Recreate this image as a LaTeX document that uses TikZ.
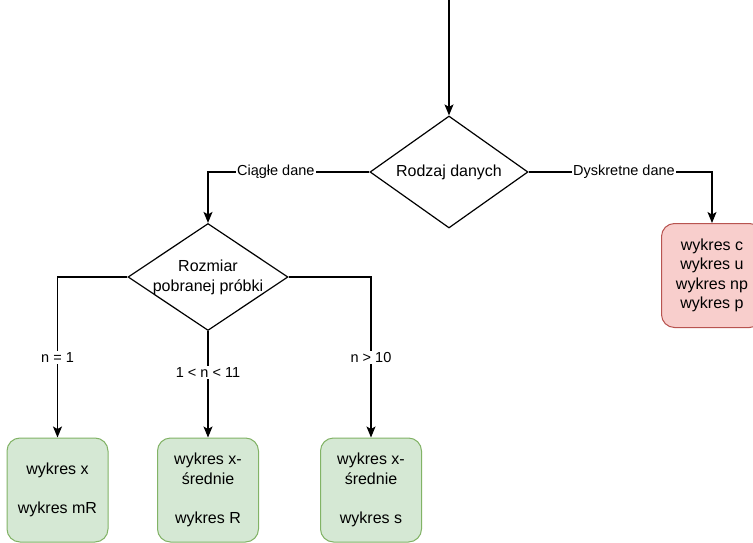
\documentclass[tikz,border=0pt]{standalone}
\usepackage{fontspec}
\setmainfont{Liberation Sans}
\usetikzlibrary{shapes.geometric,arrows.meta}
\definecolor{greenfill}{HTML}{D5E8D4}
\definecolor{greenline}{HTML}{82B366}
\definecolor{redfill}{HTML}{F8CECC}
\definecolor{redline}{HTML}{B85450}
\tikzset{
  decision/.style={diamond, draw=black, line width=1.2pt, inner sep=0pt},
  decisiontext/.style={font=\fontsize{16}{20}\selectfont, align=center},
  result/.style={rectangle, rounded corners=13pt, line width=1pt,
    minimum width=101pt, minimum height=104pt, align=center, inner sep=0pt,
    font=\fontsize{16}{19.5}\selectfont},
  okbox/.style={result, fill=greenfill, draw=greenline},
  badbox/.style={result, fill=redfill, draw=redline},
  flow/.style={draw=black, line width=1.2pt,
    -{Stealth[length=11pt,width=9pt,inset=2.5pt]}},
  edgelabel/.style={fill=white, inner sep=1.5pt, font=\fontsize{14.5}{16}\selectfont},
}
\begin{document}
\begin{tikzpicture}[x=1pt,y=-1pt]
  \useasboundingbox[fill=white] (0,0) rectangle (753,543);

  % decisions
  \node[decision, minimum width=158pt, minimum height=112pt] (kind) at (449,172) {};
  \node[decisiontext] (kindtxt) at (kind.center) {Rodzaj danych};
  \node[decision, minimum width=160pt, minimum height=107pt] (size) at (208,277) {};
  \node[decisiontext] (sizetxt) at (size.center) {Rozmiar\\pobranej próbki};

  % outcome boxes
  \node[badbox] (discrete) at (712,275.5) {wykres c\\wykres u\\wykres np\\wykres p};
  \node[okbox] (single) at (57.5,490) {wykres x\\[19.5pt]wykres mR};
  \node[okbox] (small) at (208,490) {wykres x-\\średnie\\[19.5pt]wykres R};
  \node[okbox] (large) at (371,490) {wykres x-\\średnie\\[19.5pt]wykres s};

  % connectors
  \coordinate (start) at (449,0);
  \draw[flow] (start) -- (kind.north);
  \draw[flow] (kind.west) -| node[edgelabel, pos=0.29] {Ciągłe dane} (size.north);
  \draw[flow] (kind.east) -| node[edgelabel, pos=0.26] {Dyskretne dane} (discrete.north);
  \draw[flow] (size.west) -| node[edgelabel, pos=0.75] {n = 1} (single.north);
  \draw[flow] (size.south) -- node[edgelabel, pos=0.39] {1 < n < 11} (small.north);
  \draw[flow] (size.east) -| node[edgelabel, pos=0.75] {n > 10} (large.north);
\end{tikzpicture}
\end{document}
